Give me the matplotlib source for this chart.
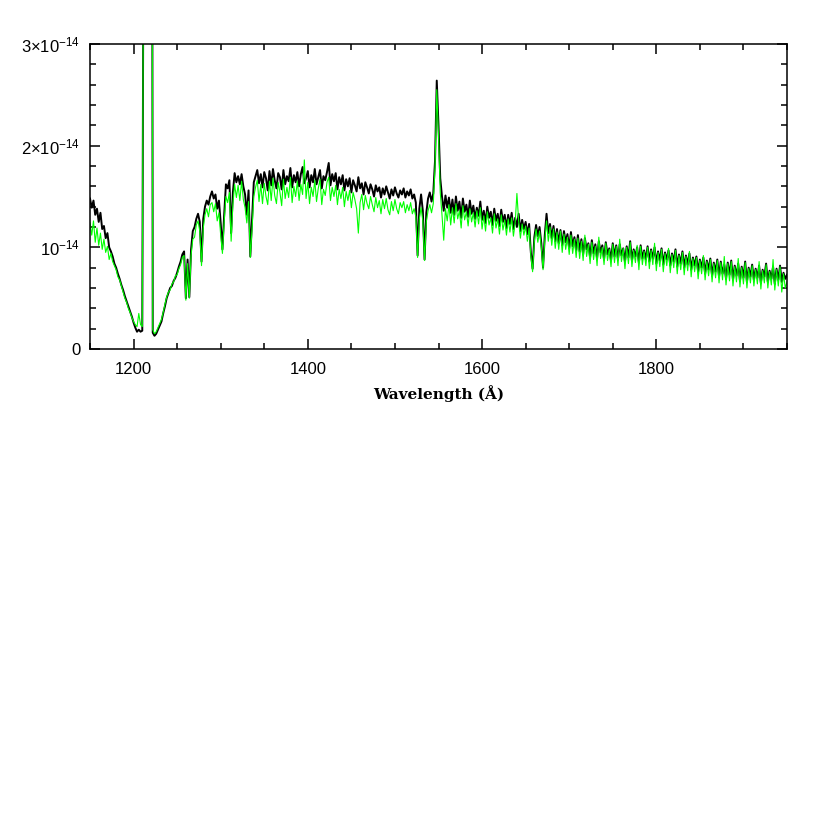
import matplotlib
matplotlib.use("Agg")
import matplotlib.pyplot as plt
import numpy as np

# два спектра: шаг 2 Å от 1150 Å, поток в единицах 1e-15
wave_start = 1150
wave_step = 2

flux_black = [
    14.8, 13.9, 14.6, 13.2, 13.8, 12.5, 13.4, 11.8, 12.1, 10.9, 11.4, 10.0, 9.6, 9.1, 8.4, 8.0, 7.4, 6.9, 6.3, 5.8,
    5.2, 4.7, 4.2, 3.7, 3.2, 2.6, 2.1, 1.7, 1.9, 1.7, 1.8, 60, 150, 150, 150, 150, 1.6, 1.3, 1.5, 1.9,
    2.3, 2.7, 3.5, 4.2, 5.0, 5.5, 6.0, 6.2, 6.7, 7.0, 7.5, 8.1, 8.6, 9.3, 9.6, 5.0, 8.8, 5.1, 9.8, 11.6,
    12.0, 12.8, 13.3, 12.5, 8.6, 12.8, 14.0, 14.6, 14.2, 15.0, 15.5, 14.8, 15.2, 13.8, 14.6, 12.4, 9.8, 13.2, 16.2, 15.8,
    16.6, 11.4, 15.4, 17.3, 16.4, 17.0, 16.2, 17.2, 16.0, 15.2, 13.2, 15.6, 9.1, 12.8, 16.4, 17.0, 17.6, 16.3, 17.2, 15.9,
    17.4, 16.8, 15.6, 17.5, 16.1, 17.7, 16.6, 15.8, 17.3, 16.9, 15.7, 17.6, 16.2, 17.0, 16.5, 17.8, 15.9, 17.1, 16.4, 17.4,
    16.0, 17.2, 17.9, 16.3, 16.8, 17.5, 15.9, 17.1, 16.4, 17.7, 16.2, 16.9, 17.6, 15.8, 17.0, 16.6, 17.4, 18.3, 16.1, 17.2,
    16.5, 17.3, 15.7, 16.9, 16.2, 17.1, 15.6, 16.7, 16.0, 16.8, 15.4, 16.6, 16.1, 15.5, 16.9, 15.8, 16.3, 15.2, 16.4, 15.9,
    15.3, 16.2, 15.7, 15.0, 16.1, 15.5, 15.9, 14.9, 15.8, 15.2, 16.0, 15.4, 14.8, 15.7, 15.1, 15.9, 15.3, 14.9, 15.6, 15.2,
    15.8, 14.9, 15.5, 15.1, 15.7, 14.8, 15.2, 14.4, 9.2, 13.8, 15.2, 13.6, 8.8, 13.4, 14.8, 15.4, 14.5, 15.3, 18.5, 26.4,
    22.0, 16.8, 15.0, 13.6, 15.1, 13.9, 14.9, 13.4, 14.7, 13.2, 15.0, 13.6, 14.5, 12.9, 14.8, 13.5, 14.2, 13.0, 14.6, 13.3,
    14.1, 12.8, 13.9, 13.1, 14.5, 12.7, 13.6, 12.4, 14.0, 12.9, 13.5, 12.2, 13.8, 12.6, 13.3, 12.1, 13.7, 12.5, 13.2, 11.9,
    13.2, 12.3, 13.4, 11.8, 12.9, 12.0, 13.3, 11.6, 12.7, 11.8, 12.5, 11.3, 12.3, 9.5, 7.9, 11.0, 12.2, 11.1, 12.0, 10.4,
    8.0, 11.2, 13.3, 11.4, 12.3, 10.9, 12.1, 10.6, 11.8, 10.4, 11.7, 10.2, 11.6, 10.5, 11.3, 9.9, 11.5, 10.1, 11.0, 9.7,
    11.2, 9.6, 10.8, 9.3, 10.9, 9.8, 10.4, 9.0, 10.7, 9.4, 10.3, 8.9, 10.6, 9.5, 10.2, 8.8, 10.5, 9.3, 9.9, 8.7,
    10.4, 9.1, 10.2, 8.8, 10.3, 9.2, 9.9, 8.6, 10.1, 9.0, 10.6, 8.7, 9.8, 9.1, 10.0, 8.5, 10.2, 8.9, 9.7, 8.8,
    10.1, 8.6, 9.8, 8.9, 10.0, 8.4, 9.6, 8.7, 9.9, 8.3, 9.5, 8.8, 9.7, 8.2, 9.4, 8.6, 9.8, 8.1, 9.3, 8.4,
    9.6, 8.0, 9.2, 8.3, 9.4, 7.8, 9.0, 8.2, 9.1, 7.6, 8.8, 8.0, 9.0, 7.4, 8.7, 7.8, 8.9, 7.2, 8.5, 7.6,
    8.8, 7.1, 8.6, 7.4, 8.3, 6.9, 8.5, 7.3, 8.7, 6.8, 8.2, 7.2, 8.4, 6.7, 8.1, 7.0, 8.6, 6.6, 8.0, 7.1,
    8.3, 6.8, 7.9, 7.0, 8.2, 6.5, 7.8, 7.1, 8.4, 6.6, 7.7, 6.9, 8.1, 6.4, 7.9, 6.8, 8.2, 6.6, 7.5, 6.9,
    7.3,
]

flux_green = [
    12.4, 11.2, 12.6, 10.5, 11.9, 10.2, 11.4, 9.8, 10.8, 9.5, 10.1, 8.8, 9.4, 8.6, 8.2, 7.8, 7.1, 6.8, 6.2, 5.6,
    5.0, 4.6, 4.0, 3.6, 3.1, 2.7, 2.4, 2.2, 3.5, 2.4, 2.2, 60, 150, 150, 150, 150, 1.9, 1.5, 1.7, 2.1,
    2.5, 2.9, 3.6, 4.4, 5.1, 5.6, 5.8, 6.4, 6.6, 7.2, 7.3, 7.9, 8.3, 9.0, 9.2, 4.8, 8.4, 5.0, 9.2, 10.8,
    11.0, 12.2, 12.6, 11.6, 8.2, 11.9, 13.2, 13.8, 13.0, 14.2, 14.4, 13.5, 14.3, 12.6, 13.4, 11.2, 9.4, 12.5, 15.0, 14.4,
    15.4, 10.6, 14.2, 16.2, 14.9, 16.1, 14.6, 16.5, 14.7, 13.9, 12.4, 14.5, 9.0, 11.8, 15.0, 15.9, 16.6, 14.5, 16.2, 14.3,
    16.3, 15.0, 14.2, 16.5, 14.6, 16.8, 15.1, 14.3, 16.4, 15.4, 14.1, 16.7, 14.8, 15.9, 14.9, 16.9, 14.4, 16.0, 15.0, 16.5,
    14.6, 16.2, 15.2, 18.6, 14.8, 16.4, 14.3, 15.9, 15.0, 16.6, 14.5, 15.8, 16.7, 14.2, 15.7, 15.1, 16.4, 16.9, 14.6, 15.9,
    15.0, 16.1, 14.2, 15.7, 14.8, 15.9, 14.0, 15.5, 14.6, 15.6, 13.9, 15.4, 14.7, 13.8, 11.4, 14.4, 15.2, 13.7, 15.1, 14.3,
    13.8, 15.0, 14.2, 13.5, 14.9, 13.9, 14.6, 13.3, 14.7, 13.8, 14.8, 13.7, 13.2, 14.5, 13.6, 14.7, 13.8, 13.3, 14.4, 13.9,
    14.5, 13.4, 14.2, 13.6, 14.4, 13.3, 13.8, 13.0, 9.0, 12.8, 13.9, 12.6, 8.7, 12.5, 13.6, 14.2, 13.4, 14.3, 17.8, 25.5,
    21.0, 15.4, 13.2, 10.7, 13.8, 12.6, 14.2, 12.2, 13.9, 12.4, 14.3, 12.8, 13.6, 11.9, 14.1, 12.7, 13.5, 12.1, 13.8, 12.5,
    13.4, 12.0, 13.6, 12.3, 13.9, 11.8, 13.1, 11.6, 13.5, 12.2, 12.9, 11.4, 13.3, 11.9, 12.8, 11.3, 13.2, 11.7, 12.7, 11.2,
    12.8, 11.5, 12.9, 11.1, 12.4, 15.3, 12.6, 10.9, 12.3, 11.2, 12.1, 10.6, 11.9, 9.2, 7.6, 10.6, 11.8, 10.5, 11.6, 10.0,
    7.8, 10.7, 12.6, 10.6, 12.0, 10.2, 11.8, 9.9, 11.5, 9.8, 11.6, 9.5, 11.3, 9.8, 11.0, 9.3, 11.2, 9.4, 10.8, 9.0,
    10.9, 8.9, 10.6, 8.7, 11.2, 9.1, 10.3, 8.4, 10.5, 8.8, 10.1, 8.2, 11.0, 8.9, 10.0, 8.3, 10.4, 8.7, 9.8, 8.1,
    10.3, 8.5, 10.1, 8.2, 10.8, 8.6, 9.9, 7.9, 10.0, 8.4, 10.5, 8.1, 9.7, 8.5, 10.2, 7.8, 10.1, 8.3, 9.6, 8.2,
    10.0, 7.9, 9.7, 8.3, 10.4, 7.7, 9.5, 8.1, 9.8, 7.6, 9.4, 8.2, 9.9, 7.5, 9.3, 8.0, 9.7, 7.4, 9.2, 7.8,
    9.5, 7.3, 9.1, 7.7, 9.6, 7.1, 8.9, 7.6, 9.0, 6.9, 8.7, 7.4, 9.2, 6.8, 8.6, 7.2, 8.8, 6.6, 8.4, 7.0,
    8.7, 6.5, 8.5, 6.8, 9.1, 6.3, 8.4, 6.7, 8.6, 6.2, 8.1, 6.6, 8.9, 6.1, 8.0, 6.4, 8.5, 6.0, 7.9, 6.5,
    8.2, 6.2, 7.8, 6.4, 8.6, 5.9, 7.7, 6.5, 8.3, 6.0, 7.6, 6.3, 8.8, 5.8, 7.8, 6.2, 8.1, 5.6, 7.4, 6.0,
    6.6,
]

ytick_vals = [0, 1e-14, 2e-14, 3e-14]
ytick_labels = ["0", r"$10^{-14}$", r"$2{\times}10^{-14}$", r"$3{\times}10^{-14}$"]
xtick_vals = [1200, 1400, 1600, 1800]

plt.rcParams['font.family'] = ['Liberation Sans', 'DejaVu Sans']
plt.rcParams['mathtext.default'] = 'regular'

wave = wave_start + wave_step * np.arange(len(flux_black))
fb = np.array(flux_black) * 1e-15
fg = np.array(flux_green) * 1e-15

fig = plt.figure(figsize=(8.3, 8.3), dpi=100)
ax = fig.add_axes([90/830, 1 - 349/830, 697/830, 305/830])

ax.plot(wave, fb, color='black', lw=1.4)
ax.plot(wave, fg, color='#00ff00', lw=0.8)

ax.set_xlim(1150, 1950)
ax.set_ylim(0, 3e-14)
ax.set_xticks(xtick_vals)
ax.set_xticks(np.arange(1150, 1951, 50), minor=True)
ax.set_yticks(ytick_vals)
ax.set_yticklabels(ytick_labels)
ax.set_yticks(np.arange(0, 3.01e-14, 2e-15), minor=True)

ax.tick_params(which='both', direction='in', top=True, right=True, width=1.1, labelsize=12)
ax.tick_params(which='major', length=7.5)
ax.tick_params(which='minor', length=4)
ax.tick_params(axis='x', pad=9)
ax.tick_params(axis='y', pad=7)
for s in ax.spines.values():
    s.set_linewidth(1.1)

ax.set_xlabel('Wavelength (Å)', fontsize=11, fontweight='bold', family='DejaVu Serif', labelpad=6)

fig.savefig('out.png', dpi=100)
